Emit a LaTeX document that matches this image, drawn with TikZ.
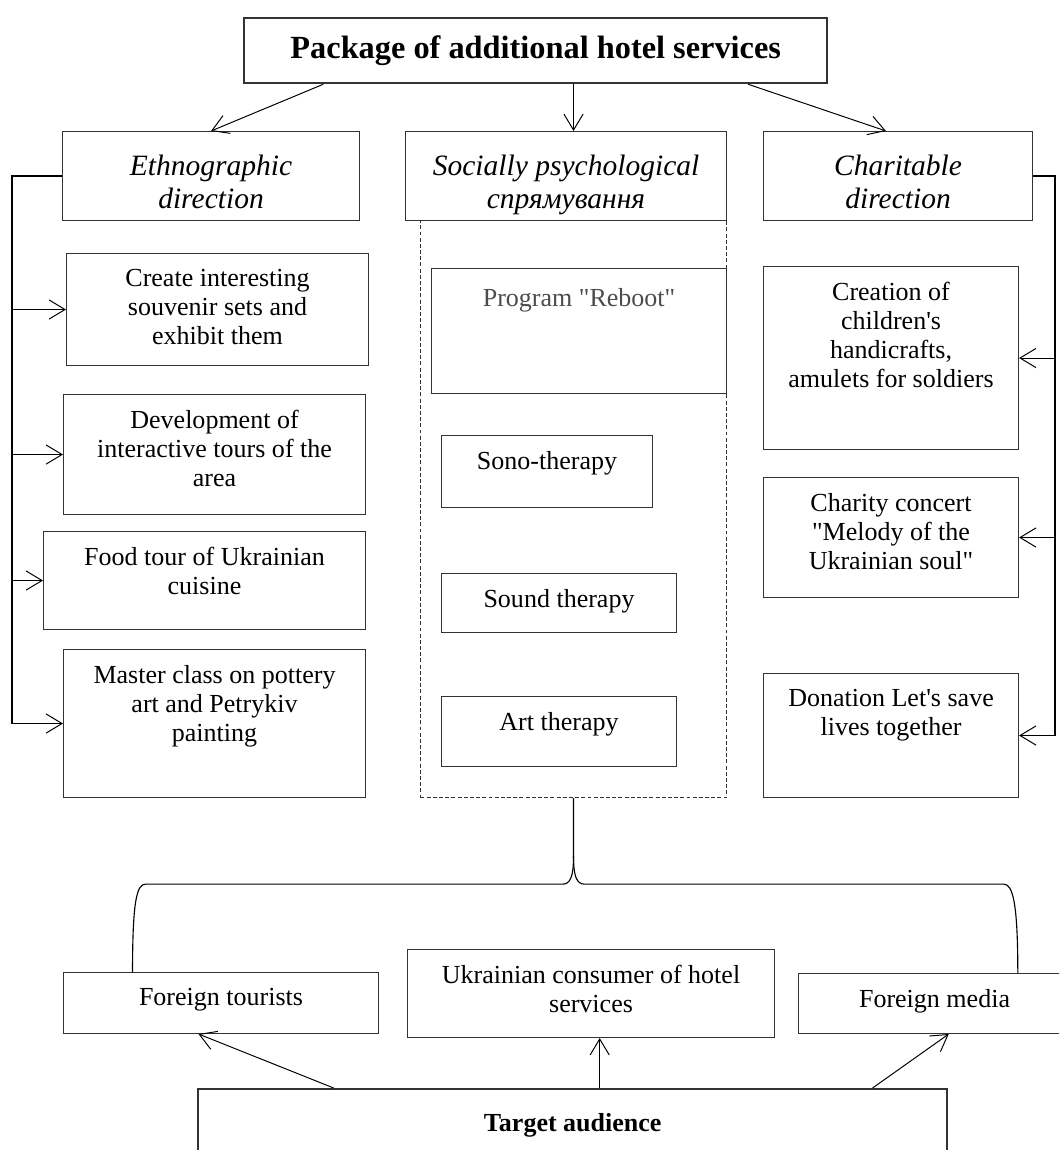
\documentclass[tikz,border=0pt]{standalone}
\usepackage{fontspec}
\setmainfont{Liberation Serif}
\usetikzlibrary{arrows.meta,calc}
\newcommand\cellfont{\fontsize{18.5}{20.6}\selectfont}
\newcommand\headfont{\fontsize{21}{23.5}\selectfont\itshape}
\newcommand\titlefont{\fontsize{23}{26}\selectfont\bfseries}
\tikzset{
  box/.style={draw=black!80, line width=0.7pt, inner sep=0pt, anchor=north west},
  txt/.style={anchor=north, inner sep=0pt, align=center, font=\cellfont, yshift=-0.4cm},
  headtxt/.style={txt, font=\headfont, yshift=-0.2cm},
  link/.style={-{Straight Barb[length=0.4cm,width=0.48cm]}, line width=0.7pt},
  spine/.style={line width=1.4pt},
  brace/.style={line width=0.8pt},
}
\begin{document}
\begin{tikzpicture}[x=0.025cm, y=-0.025cm]
\useasboundingbox (0,0) rectangle (1059,1150);
\clip (0,0) rectangle (1059,1150);

% package and directions
\node[box, line width=1.6pt, minimum width=14.575cm, minimum height=1.625cm, font=\titlefont] (title) at (243,17) {Package of additional hotel services};
\node[box, minimum width=7.425cm, minimum height=2.225cm, label={[headtxt]north:{Ethnographic\\direction}}] (ethno) at (62,131) {};
\node[box, dash pattern=on 2.8pt off 1.6pt, minimum width=7.65cm, minimum height=14.425cm] (grp) at (420,220) {};
\node[box, minimum width=8.025cm, minimum height=2.225cm, label={[headtxt]north:{Socially psychological\\спрямування}}] (social) at (405,131) {};
\node[box, minimum width=6.725cm, minimum height=2.225cm, label={[headtxt]north:{Charitable\\direction}}] (charit) at (763,131) {};

\draw[link] (title.189) -- (ethno.north);
\draw[link] (title.south -| grp) -- (social.north -| grp);
\draw[link] (title.-9) -- (charit.105);

% ethnographic services
\node[box, minimum width=7.55cm, minimum height=2.8cm, label={[txt]north:{Create interesting\\souvenir sets and\\exhibit them}}] (e1) at (66,253) {};
\node[box, minimum width=7.55cm, minimum height=3cm, label={[txt]north:{Development of\\interactive tours of the\\area}}] (e2) at (63,394) {};
\node[box, minimum width=8.05cm, minimum height=2.45cm, label={[txt]north:{Food tour of Ukrainian\\cuisine}}] (e3) at (43,531) {};
\node[box, minimum width=7.55cm, minimum height=3.7cm, label={[txt]north:{Master class on pottery\\art and Petrykiv\\painting}}] (e4) at (63,649) {};

\coordinate (lsp) at (12,0);
\draw[spine] (ethno.west) -| (lsp |- e4.west);
\foreach \b in {e1,e2,e3,e4}
  \draw[link] (lsp |- \b.west) -- (\b.west);

% socially psychological services
\node[box, minimum width=7.375cm, minimum height=3.125cm, label={[txt, yshift=-0.1cm, text=black!70]north:{Program \textquotedbl Reboot\textquotedbl}}] (reboot) at (431,268) {};
\node[box, minimum width=5.275cm, minimum height=1.8cm, label={[txt]north:{Sono-therapy}}] (sono) at (441,435) {};
\node[box, minimum width=5.875cm, minimum height=1.475cm, label={[txt]north:{Sound therapy}}] (sound) at (441,573) {};
\node[box, minimum width=5.875cm, minimum height=1.75cm, label={[txt]north:{Art therapy}}] (art) at (441,696) {};

% charitable services
\node[box, minimum width=6.375cm, minimum height=4.575cm, label={[txt]north:{Creation of\\children\textquotesingle s\\handicrafts,\\amulets for soldiers}}] (c1) at (763,266) {};
\node[box, minimum width=6.375cm, minimum height=3cm, label={[txt]north:{Charity concert\\\textquotedbl Melody of the\\Ukrainian soul\textquotedbl}}] (c2) at (763,477) {};
\node[box, minimum width=6.375cm, minimum height=3.1cm, label={[txt]north:{Donation Let\textquotesingle s save\\lives together}}] (c3) at (763,673) {};

\coordinate (rsp) at (1055,0);
\draw[spine] (charit.east) -| (rsp |- c3.east);
\foreach \b in {c1,c2,c3}
  \draw[link] (rsp |- \b.east) -- (\b.east);

% audience
\node[box, minimum width=7.875cm, minimum height=1.525cm, label={[txt]north:{Foreign tourists}}] (ft) at (63,972) {};
\node[box, minimum width=9.175cm, minimum height=2.2cm, label={[txt]north:{Ukrainian consumer of hotel\\services}}] (uc) at (407,949) {};
\node[box, minimum width=6.8cm, minimum height=1.5cm, label={[txt]north:{Foreign media}}] (fm) at (798,973) {};
\node[box, line width=1.6pt, minimum width=18.725cm, minimum height=2.05cm, label={[txt, yshift=-0.22cm, font=\cellfont\bfseries]north:{Target audience}}] (target) at (197,1088) {};

\draw[link] (target.170) -- (ft.234);
\draw[link] (target.north -| uc.-79) -- (uc.-79);
\draw[link] (target.8.75) -- (fm.-65);

% brace
\coordinate (cusp) at ($(grp.south)+(0,86)$);
\coordinate (bl) at ($(ft.north west)!0.22!(ft.north east)$);
\coordinate (br) at ($(fm.north west)!0.805!(fm.north east)$);
\draw[brace] (grp.south) -- ($(cusp)+(0,-28)$) .. controls +(0,20) and +(8,0) .. ($(cusp)+(-11,0)$) -- ($(cusp -| bl)+(13,0)$) .. controls +(-9,0) and +(0,-70) .. (bl);
\draw[brace] ($(cusp)+(0,-28)$) .. controls +(0,20) and +(-8,0) .. ($(cusp)+(11,0)$) -- ($(cusp -| br)+(-14,0)$) .. controls +(9,0) and +(0,-70) .. (br);
\end{tikzpicture}
\end{document}
